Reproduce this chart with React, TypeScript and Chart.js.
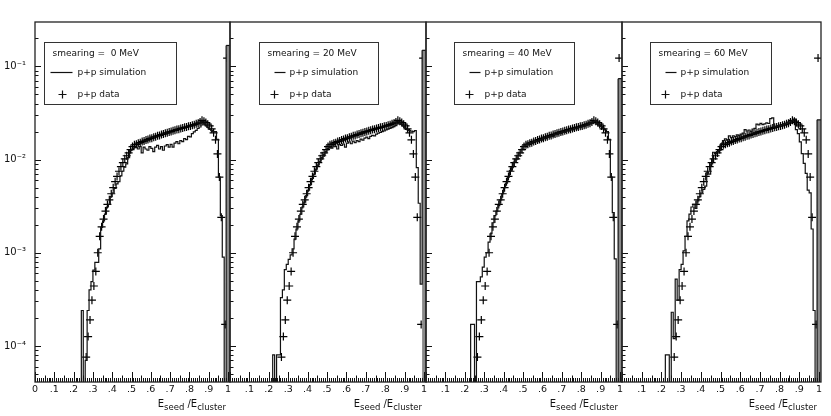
import React, { useEffect, useRef } from "react";
import { Chart, registerables } from "chart.js";

Chart.register(...registerables);

// ---------------- data ----------------
// histogram bins: lower edges 0.20 ... 1.00, width 0.01 (last edge 1.01)
const binEdges: number[] = Array.from({ length: 82 }, (_, i) => (20 + i) / 100);

const smearingMeV = [0, 20, 40, 60];

const xTickValues = [0, 0.1, 0.2, 0.3, 0.4, 0.5, 0.6, 0.7, 0.8, 0.9, 1.0];
const yTickValues = [1e-4, 1e-3, 1e-2, 1e-1];

// p+p data (same in every panel), one value per bin, null = empty
const dataPP: (number | null)[] = [
  null, null, null, null, null, null, 7.6e-5, 1.26e-4, 1.9e-4, 3.1e-4,
  4.4e-4, 6.3e-4, 1.0e-3, 1.5e-3, 1.9e-3, 2.3e-3, 2.8e-3, 3.3e-3, 3.7e-3, 4.3e-3,
  5.0e-3, 5.8e-3, 6.6e-3, 7.5e-3, 8.4e-3, 9.3e-3, 1.02e-2, 1.1e-2, 1.18e-2, 1.28e-2,
  1.38e-2, 1.44e-2, 1.46e-2, 1.5e-2, 1.52e-2, 1.56e-2, 1.58e-2, 1.62e-2, 1.64e-2, 1.68e-2,
  1.7e-2, 1.74e-2, 1.76e-2, 1.8e-2, 1.82e-2, 1.86e-2, 1.88e-2, 1.92e-2, 1.94e-2, 1.98e-2,
  2.0e-2, 2.04e-2, 2.06e-2, 2.1e-2, 2.12e-2, 2.16e-2, 2.18e-2, 2.22e-2, 2.24e-2, 2.28e-2,
  2.3e-2, 2.34e-2, 2.37e-2, 2.42e-2, 2.46e-2, 2.53e-2, 2.64e-2, 2.58e-2, 2.5e-2, 2.4e-2,
  2.3e-2, 2.14e-2, 1.94e-2, 1.63e-2, 1.15e-2, 6.5e-3, 2.4e-3, null, 1.7e-4, 1.23e-1,
  null,
];

// p+p simulation for each smearing, one value per bin (0 = empty bin)
const simSmear0 = [
  0, 0, 0, 0, 2.4e-4, 0, 7e-5, 2.4e-4, 4.0e-4, 4.9e-4,
  6.5e-4, 7.9e-4, 7.9e-4, 1.1e-3, 1.87e-3, 2.2e-3, 2.6e-3, 3.1e-3, 3.3e-3, 4.0e-3,
  4.4e-3, 4.9e-3, 5.5e-3, 5.8e-3, 6.7e-3, 7.5e-3, 8.3e-3, 9.0e-3, 1.05e-2, 1.25e-2,
  1.3e-2, 1.34e-2, 1.36e-2, 1.3e-2, 1.38e-2, 1.18e-2, 1.36e-2, 1.3e-2, 1.26e-2, 1.38e-2,
  1.32e-2, 1.22e-2, 1.36e-2, 1.42e-2, 1.3e-2, 1.38e-2, 1.26e-2, 1.4e-2, 1.45e-2, 1.36e-2,
  1.46e-2, 1.36e-2, 1.5e-2, 1.56e-2, 1.48e-2, 1.6e-2, 1.56e-2, 1.68e-2, 1.64e-2, 1.78e-2,
  1.75e-2, 1.9e-2, 1.98e-2, 2.06e-2, 2.16e-2, 2.24e-2, 2.36e-2, 2.46e-2, 2.32e-2, 2.22e-2,
  2.12e-2, 2.05e-2, 2.0e-2, 2.0e-2, 1.65e-2, 6.5e-3, 2.5e-3, 9e-4, 0, 1.68e-1,
  1.68e-1,
];
const simSmear20 = [
  0, 0, 8e-5, 0, 8e-5, 8e-5, 3.3e-4, 4.0e-4, 6.6e-4, 7.5e-4,
  8.5e-4, 9.5e-4, 1.1e-3, 1.4e-3, 1.8e-3, 2.2e-3, 2.6e-3, 3.1e-3, 3.5e-3, 4.1e-3,
  4.7e-3, 5.4e-3, 6.3e-3, 7.0e-3, 7.9e-3, 8.8e-3, 9.6e-3, 1.05e-2, 1.13e-2, 1.22e-2,
  1.32e-2, 1.36e-2, 1.33e-2, 1.4e-2, 1.38e-2, 1.3e-2, 1.45e-2, 1.42e-2, 1.47e-2, 1.36e-2,
  1.5e-2, 1.55e-2, 1.48e-2, 1.58e-2, 1.52e-2, 1.6e-2, 1.56e-2, 1.66e-2, 1.62e-2, 1.7e-2,
  1.74e-2, 1.68e-2, 1.78e-2, 1.82e-2, 1.8e-2, 1.88e-2, 1.92e-2, 1.96e-2, 2.0e-2, 2.03e-2,
  2.08e-2, 2.12e-2, 2.16e-2, 2.2e-2, 2.26e-2, 2.32e-2, 2.42e-2, 2.48e-2, 2.4e-2, 2.3e-2,
  2.18e-2, 2.1e-2, 2.05e-2, 2.02e-2, 2.0e-2, 2.05e-2, 8.2e-3, 3.4e-3, 4.6e-4, 1.49e-1,
  1.49e-1,
];
const simSmear40 = [
  0, 0, 0, 1.7e-4, 1.7e-4, 0, 4.9e-4, 4.9e-4, 5.5e-4, 7.0e-4,
  9.0e-4, 1.0e-3, 1.3e-3, 1.6e-3, 2.1e-3, 2.5e-3, 2.8e-3, 3.2e-3, 3.7e-3, 4.3e-3,
  5.0e-3, 5.6e-3, 6.5e-3, 7.6e-3, 8.2e-3, 9.4e-3, 1.0e-2, 1.12e-2, 1.2e-2, 1.3e-2,
  1.4e-2, 1.44e-2, 1.46e-2, 1.52e-2, 1.48e-2, 1.55e-2, 1.58e-2, 1.56e-2, 1.63e-2, 1.62e-2,
  1.7e-2, 1.68e-2, 1.75e-2, 1.74e-2, 1.8e-2, 1.78e-2, 1.86e-2, 1.85e-2, 1.92e-2, 1.9e-2,
  1.98e-2, 1.96e-2, 2.04e-2, 2.02e-2, 2.1e-2, 2.08e-2, 2.16e-2, 2.14e-2, 2.22e-2, 2.2e-2,
  2.28e-2, 2.26e-2, 2.34e-2, 2.36e-2, 2.44e-2, 2.48e-2, 2.56e-2, 2.62e-2, 2.45e-2, 2.36e-2,
  2.26e-2, 2.18e-2, 2.08e-2, 2.0e-2, 1.65e-2, 6.5e-3, 2.7e-3, 8.6e-4, 0, 7.4e-2,
  7.4e-2,
];
const simSmear60 = [
  0, 0, 8e-5, 8e-5, 0, 2.3e-4, 1.2e-4, 5.2e-4, 3.1e-4, 6.6e-4,
  7.5e-4, 1.05e-3, 1.5e-3, 2.2e-3, 2.6e-3, 3.1e-3, 3.3e-3, 3.0e-3, 3.6e-3, 4.0e-3,
  4.4e-3, 4.8e-3, 5.2e-3, 7.3e-3, 7.0e-3, 9.0e-3, 1.2e-2, 1.15e-2, 1.22e-2, 1.25e-2,
  1.48e-2, 1.6e-2, 1.67e-2, 1.62e-2, 1.8e-2, 1.72e-2, 1.8e-2, 1.76e-2, 1.84e-2, 1.8e-2,
  1.88e-2, 1.92e-2, 2.1e-2, 2.02e-2, 2.08e-2, 2.0e-2, 2.12e-2, 2.16e-2, 2.4e-2, 2.36e-2,
  2.45e-2, 2.38e-2, 2.42e-2, 2.48e-2, 2.44e-2, 2.75e-2, 2.8e-2, 2.25e-2, 2.28e-2, 2.3e-2,
  2.33e-2, 2.36e-2, 2.4e-2, 2.44e-2, 2.5e-2, 2.55e-2, 2.62e-2, 2.72e-2, 2.1e-2, 1.9e-2,
  1.55e-2, 1.16e-2, 9.1e-3, 7.1e-3, 4.7e-3, 4.4e-3, 1.8e-3, 2.4e-4, 0, 2.67e-2,
  2.67e-2,
];
const simBySmearing = [simSmear0, simSmear20, simSmear40, simSmear60];

// ---------------- style / layout ----------------
const W = 831;
const H = 416;
const FONT = '"DejaVu Sans", "Liberation Sans", sans-serif';
const INK = "#111";
const SPIKE_GRAY = "#8a8a8a";
const X_MIN = 0;
const X_MAX = 1.01;
const Y_MIN = 4.1e-5;
const Y_MAX = 0.3;
const ZERO_FLOOR = 1e-9; // empty bins drawn at the bottom of the log axis
const PANEL_X = [
  [35, 230],
  [230, 426],
  [426, 622],
  [622, 821],
];
const PLOT_TOP = 22;
const X_AXIS_H = 34;
const LEGEND = [
  { left: 9, width: 132, line: [6, 28], marker: 17, text: 33 },
  { left: 29, width: 119, line: [15, 26], marker: 14, text: 30 },
  { left: 28, width: 120, line: [15, 26], marker: 14, text: 30 },
  { left: 28, width: 121, line: [15, 26], marker: 14, text: 30 },
];

const SUP: Record<string, string> = {
  "-": "\u207B", "0": "\u2070", "1": "\u00B9", "2": "\u00B2", "3": "\u00B3",
  "4": "\u2074", "5": "\u2075", "6": "\u2076", "7": "\u2077", "8": "\u2078", "9": "\u2079",
};
const powLabel = (v: number) =>
  "10" + String(Math.round(Math.log10(v))).split("").map((c) => SUP[c]).join("");

const xLabel = (v: number) => {
  if (Math.abs(v) < 1e-9) return "0";
  if (Math.abs(v - 1) < 1e-9) return "1";
  return "." + Math.round(v * 10);
};

function makeDecor(panel: number) {
  return {
    id: "rootDecor" + panel,
    afterDatasetsDraw(chart: any) {
      const { ctx, chartArea: a, scales } = chart;
      const xs = scales.x;
      const ys = scales.y;
      ctx.save();
      // ROOT-style inward ticks
      ctx.strokeStyle = INK;
      ctx.lineWidth = 1;
      ctx.beginPath();
      for (let i = 0; i <= 100; i++) {
        const px = Math.round(xs.getPixelForValue(i / 100)) + 0.5;
        const len = i % 10 === 0 ? 10 : i % 5 === 0 ? 6.5 : 4;
        ctx.moveTo(px, a.bottom);
        ctx.lineTo(px, a.bottom - len);
      }
      for (let e = -5; e <= 0; e++) {
        for (let k = 1; k <= 9; k++) {
          const v = k * Math.pow(10, e);
          if (v < ys.min || v > ys.max) continue;
          const py = Math.round(ys.getPixelForValue(v)) + 0.5;
          const len = k === 1 ? 6 : 3.5;
          ctx.moveTo(a.left, py);
          ctx.lineTo(a.left + len, py);
        }
      }
      ctx.stroke();
      // frame
      ctx.strokeStyle = "#222";
      ctx.lineWidth = 1.3;
      ctx.strokeRect(a.left, a.top, a.right - a.left, a.bottom - a.top);

      // legend box
      const L = LEGEND[panel];
      const bx = Math.round(a.left + L.left) + 0.5;
      const by = 42.5;
      const bw = L.width;
      const bh = 62;
      ctx.fillStyle = "#fff";
      ctx.fillRect(bx, by, bw, bh);
      ctx.strokeStyle = "#333";
      ctx.lineWidth = 1;
      ctx.strokeRect(bx, by, bw, bh);
      ctx.fillStyle = INK;
      ctx.font = `9px ${FONT}`;
      ctx.textBaseline = "middle";
      ctx.textAlign = "left";
      const title = "smearing = " + String(smearingMeV[panel]).padStart(2, " ") + " MeV";
      ctx.fillText(title, bx + 8, 53.5);
      const simLabel = chart.data.datasets[0].label;
      const dataLabel = chart.data.datasets[1].label;
      ctx.strokeStyle = INK;
      ctx.lineWidth = 1.2;
      ctx.beginPath();
      ctx.moveTo(bx + L.line[0], 72.5);
      ctx.lineTo(bx + L.line[1], 72.5);
      ctx.stroke();
      ctx.fillText(simLabel, bx + L.text, 73);
      const mx = Math.round(bx + L.marker) + 0.5;
      ctx.beginPath();
      ctx.moveTo(mx - 4, 94.5);
      ctx.lineTo(mx + 4, 94.5);
      ctx.moveTo(mx, 90.5);
      ctx.lineTo(mx, 98.5);
      ctx.stroke();
      ctx.fillText(dataLabel, bx + L.text, 94.5);

      // axis title E_seed / E_cluster
      const big = `10px ${FONT}`;
      const small = `8.5px ${FONT}`;
      const parts: [string, string, number][] = [
        ["E", big, 0],
        ["seed", small, 2.5],
        [" /", big, 0],
        ["E", big, 0],
        ["cluster", small, 2.5],
      ];
      let total = 0;
      for (const [t, f] of parts) {
        ctx.font = f;
        total += ctx.measureText(t).width;
      }
      let tx = xs.getPixelForValue(1) - 2 - total;
      ctx.textBaseline = "alphabetic";
      ctx.fillStyle = INK;
      for (const [t, f, dy] of parts) {
        ctx.font = f;
        ctx.fillText(t, tx, 407 + dy);
        tx += ctx.measureText(t).width;
      }
      ctx.restore();
    },
  };
}

function makeConfig(panel: number): any {
  const sim = simBySmearing[panel];
  const simPoints = binEdges.map((e, i) => {
    const v = sim[Math.min(i, sim.length - 1)];
    return { x: e, y: v > 0 ? v : ZERO_FLOOR };
  });
  const dataPoints = dataPP.map((v, i) => ({
    x: (binEdges[i] + binEdges[i + 1]) / 2,
    y: v,
  }));
  const [left, right] = PANEL_X[panel];
  const xTicks = panel === 0 ? xTickValues : xTickValues.filter((v) => v > 0);
  return {
    type: "line",
    data: {
      datasets: [
        {
          label: "p+p simulation",
          data: simPoints,
          stepped: "before",
          borderColor: INK,
          borderWidth: 1.2,
          pointRadius: 0,
          fill: "start",
          backgroundColor: "rgba(0,0,0,0)",
          segment: {
            backgroundColor: (ctx: any) =>
              binEdges[ctx.p0DataIndex] >= 0.985 ? SPIKE_GRAY : "rgba(0,0,0,0)",
          },
        },
        {
          label: "p+p data",
          data: dataPoints,
          showLine: false,
          pointStyle: "cross",
          pointRadius: 4,
          pointBorderWidth: 1.2,
          borderColor: "#000",
          backgroundColor: "#000",
        },
      ],
    },
    options: {
      animation: false,
      responsive: false,
      events: [],
      layout: {
        autoPadding: false,
        padding: { left: panel === 0 ? 0 : left, right: W - right, top: PLOT_TOP, bottom: 0 },
      },
      plugins: {
        legend: { display: false },
        tooltip: { enabled: false },
      },
      scales: {
        x: {
          type: "linear",
          min: X_MIN,
          max: X_MAX,
          grid: { display: false, drawTicks: false },
          border: { display: false },
          afterBuildTicks: (s: any) => {
            s.ticks = xTicks.map((v) => ({ value: v }));
          },
          afterFit: (s: any) => {
            s.height = X_AXIS_H;
          },
          ticks: {
            autoSkip: false,
            maxRotation: 0,
            padding: 2,
            color: INK,
            font: { family: FONT, size: 9.5 },
            callback: (v: number) => xLabel(v),
          },
        },
        y: {
          type: "logarithmic",
          display: panel === 0,
          position: "left",
          min: Y_MIN,
          max: Y_MAX,
          grid: { display: false, drawTicks: false },
          border: { display: false },
          afterBuildTicks: (s: any) => {
            s.ticks = yTickValues.map((v) => ({ value: v }));
          },
          afterFit: (s: any) => {
            s.width = panel === 0 ? left : 0;
          },
          ticks: {
            padding: 9,
            color: INK,
            font: { family: FONT, size: 10 },
            callback: (v: number) => powLabel(v),
          },
        },
      },
    },
    plugins: [makeDecor(panel)],
  };
}

export default function App() {
  const canvases = useRef<(HTMLCanvasElement | null)[]>([]);
  useEffect(() => {
    const charts = smearingMeV.map((_, p) => new Chart(canvases.current[p] as HTMLCanvasElement, makeConfig(p)));
    return () => charts.forEach((c) => c.destroy());
  }, []);
  return (
    <div style={{ position: "absolute", left: 0, top: 0, width: W, height: H, background: "#fff" }}>
      {smearingMeV.map((_, p) => (
        <canvas
          key={p}
          ref={(el) => {
            canvases.current[p] = el;
          }}
          width={W}
          height={H}
          style={{ position: "absolute", left: 0, top: 0, width: W, height: H }}
        />
      ))}
    </div>
  );
}
